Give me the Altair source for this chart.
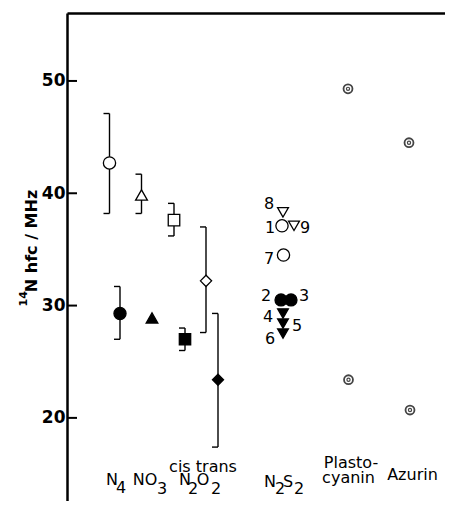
import altair as alt
import pandas as pd

# ---------------- data ----------------
# markers (x in arbitrary horizontal units, y = 14N hfc in MHz)
marker_name = ["N4 a", "N4 b", "NO3 a", "NO3 b", "cis a", "cis b", "trans a", "trans b",
               "8", "1", "9", "7", "2", "3", "4", "5", "6"]
marker_x = [4.25, 5.3, 7.45, 8.5, 10.7, 11.8, 13.9, 15.1,
            21.6, 21.5, 22.7, 21.65, 21.4, 22.4, 21.6, 21.6, 21.6]
marker_y = [42.7, 29.3, 39.85, 28.9, 37.6, 27.0, 32.2, 23.4,
            38.3, 37.1, 37.1, 34.5, 30.5, 30.5, 29.3, 28.4, 27.5]
marker_kind = ["open circle", "filled circle", "open triangle", "filled triangle",
               "open square", "filled square", "open diamond", "filled diamond",
               "open triangle-down", "open circle", "open triangle-down", "open circle",
               "large filled circle", "large filled circle",
               "filled triangle-down", "filled triangle-down", "filled triangle-down"]

# error brackets
err_x = [4.25, 5.3, 7.45, 10.7, 11.8, 13.9, 15.1]
err_lo = [38.2, 27.0, 38.2, 36.2, 26.0, 27.6, 17.4]
err_hi = [47.1, 31.7, 41.7, 39.1, 28.0, 37.0, 29.3]

# protein (target) markers
prot_name = ["Plastocyanin", "Plastocyanin", "Azurin", "Azurin"]
prot_x = [28.1, 28.15, 34.2, 34.3]
prot_y = [49.3, 23.4, 44.5, 20.7]

# numbers of the N2S2 complexes
num_text = ["8", "1", "9", "7", "2", "3", "4", "5", "6"]
num_x = [20.2, 20.3, 23.8, 20.2, 19.9, 23.7, 20.1, 23.0, 20.3]
num_y = [39.05, 36.9, 36.9, 34.15, 30.85, 30.85, 28.98, 28.18, 27.03]

# category labels (main text and subscripts)
cat_text = ["N", "NO", "N", "O", "cis trans", "N", "S", "Plasto-", "cyanin", "Azurin"]
cat_x = [4.5, 7.8, 11.8, 13.6, 13.6, 20.3, 22.1, 28.4, 28.15, 34.55]
cat_y = [14.02, 14.02, 14.02, 14.02, 15.18, 13.85, 13.85, 15.54, 14.20, 14.47]
sub_text = ["4", "3", "2", "2", "2", "2"]
sub_x = [5.4, 9.5, 12.6, 14.9, 21.3, 23.2]
sub_y = [13.3, 13.25, 13.25, 13.25, 13.2, 13.2]

# y-axis title pieces
ytitle_text = ["N hfc / MHz"]
ytitle_x = [-3.5]
ytitle_y = [35.75]
ysup_text = ["14"]
ysup_x = [-4.35]
ysup_y = [30.6]

tick_vals = [20, 30, 40, 50]

# ---------------- frames ----------------
markers = pd.DataFrame({"name": marker_name, "x": marker_x, "y": marker_y, "kind": marker_kind})
errs = pd.DataFrame({"x": err_x, "lo": err_lo, "hi": err_hi})
caps = pd.concat([errs[["x"]].assign(y=errs["lo"]), errs[["x"]].assign(y=errs["hi"])])
prots = pd.DataFrame({"name": prot_name, "x": prot_x, "y": prot_y})
nums = pd.DataFrame({"t": num_text, "x": num_x, "y": num_y})
cats = pd.DataFrame({"t": cat_text, "x": cat_x, "y": cat_y})
subs = pd.DataFrame({"t": sub_text, "x": sub_x, "y": sub_y})
ytit = pd.DataFrame({"t": ytitle_text, "x": ytitle_x, "y": ytitle_y})
ysup = pd.DataFrame({"t": ysup_text, "x": ysup_x, "y": ysup_y})
ticks = pd.DataFrame({"y": tick_vals})

kinds = ["open circle", "filled circle", "large filled circle", "open triangle", "filled triangle",
         "open square", "filled square", "open diamond", "filled diamond",
         "open triangle-down", "filled triangle-down"]
shapes = ["circle", "circle", "circle", "triangle-up", "triangle-up", "square", "square",
          "diamond", "diamond", "triangle-down", "triangle-down"]
sizes = [150, 115, 225, 100, 150, 64, 110, 190, 250, 165, 120]
fills = ["white", "black", "black", "white", "black", "white", "black", "white", "black",
         "white", "black"]

FONT = "DejaVu Sans"

xs = alt.Scale(domain=[0, 37.8], nice=False, zero=False)
ys = alt.Scale(domain=[12.6, 56.05], nice=False, zero=False)
xaxis = alt.Axis(orient="top", domainWidth=2.5, domainColor="black", ticks=False,
                 labels=False, grid=False, title=None)
yaxis = alt.Axis(values=tick_vals, ticks=False, grid=False, domainWidth=2.5, domainColor="black",
                 labelFont=FONT, labelFontSize=17, labelFontWeight="bold", labelColor="black",
                 labelPadding=2, title=None)

X = lambda f="x": alt.X(f"{f}:Q", scale=xs, axis=xaxis)
Y = lambda f="y": alt.Y(f"{f}:Q", scale=ys, axis=yaxis)

tick_layer = alt.Chart(ticks).mark_rule(color="black", strokeWidth=2).encode(
    y=Y(), x=alt.value(0), x2=alt.value(10))

vlines = alt.Chart(errs).mark_rule(color="black", strokeWidth=1.4).encode(
    x=X(), y=Y("lo"), y2="hi")

cap_layer = alt.Chart(caps).transform_calculate(xc="datum.x - 0.6").mark_rule(
    color="black", strokeWidth=1.4).encode(x=X(), x2="xc:Q", y=Y())

pts = alt.Chart(markers).mark_point(filled=True, stroke="black", strokeWidth=1.3, opacity=1).encode(
    x=X(), y=Y(),
    shape=alt.Shape("kind:N", scale=alt.Scale(domain=kinds, range=shapes), legend=None),
    size=alt.Size("kind:N", scale=alt.Scale(domain=kinds, range=sizes), legend=None),
    fill=alt.Fill("kind:N", scale=alt.Scale(domain=kinds, range=fills), legend=None),
)

prot_outer = alt.Chart(prots).mark_point(shape="circle", size=80, filled=False, color="#444",
                                         strokeWidth=1.8, opacity=1).encode(x=X(), y=Y())
prot_inner = alt.Chart(prots).mark_point(shape="circle", size=10, filled=False, color="#444",
                                         strokeWidth=1.2, opacity=1).encode(x=X(), y=Y())

num_layer = alt.Chart(nums).mark_text(font=FONT, fontSize=16, color="black", align="center",
                                      baseline="middle").encode(x=X(), y=Y(), text="t:N")
cat_layer = alt.Chart(cats).mark_text(font=FONT, fontSize=16, color="black", align="center",
                                      baseline="alphabetic").encode(x=X(), y=Y(), text="t:N")
sub_layer = alt.Chart(subs).mark_text(font=FONT, fontSize=16, color="black", align="center",
                                      baseline="alphabetic").encode(x=X(), y=Y(), text="t:N")
ytit_layer = alt.Chart(ytit).mark_text(font=FONT, fontSize=16, fontWeight="bold", color="black",
                                       align="center", baseline="middle", angle=270).encode(
    x=X(), y=Y(), text="t:N")
ysup_layer = alt.Chart(ysup).mark_text(font=FONT, fontSize=11, fontWeight="bold", color="black",
                                       align="center", baseline="middle", angle=270).encode(
    x=X(), y=Y(), text="t:N")

chart = alt.layer(tick_layer, vlines, cap_layer, pts, prot_outer, prot_inner,
                  num_layer, cat_layer, sub_layer, ytit_layer, ysup_layer).properties(
    width=378, height=488,
    autosize=alt.AutoSizeParams(type="none"),
    padding={"left": 59, "top": 5, "right": 0, "bottom": 0},
).configure_view(stroke=None).configure(background="white")

chart.save("out.html", embed_options={"renderer": "svg", "actions": False})
